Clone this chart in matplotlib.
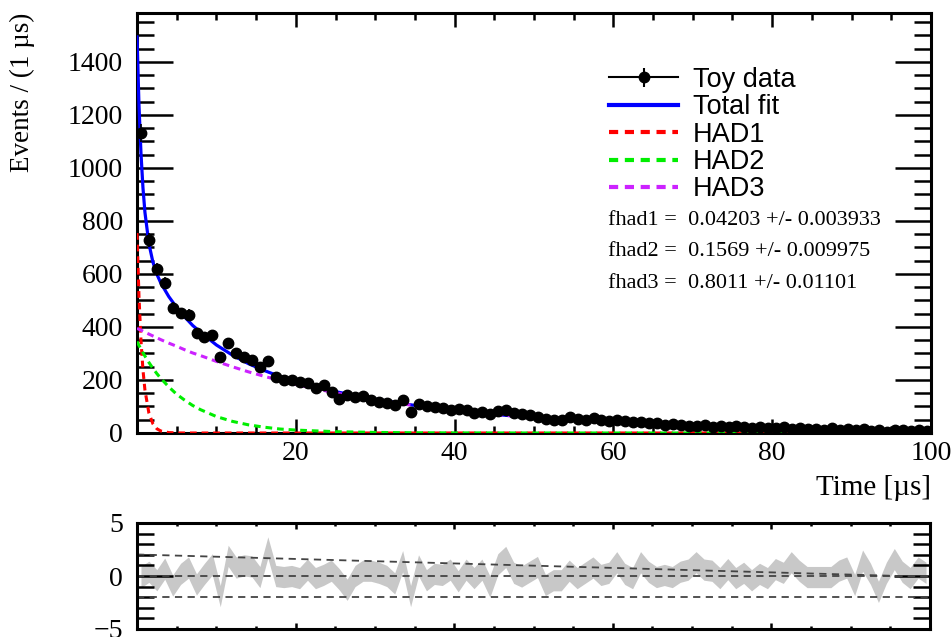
import numpy as np
import matplotlib
matplotlib.use("Agg")
import matplotlib.pyplot as plt
from matplotlib.container import ErrorbarContainer
from matplotlib.legend_handler import HandlerErrorbar, HandlerTuple
from matplotlib.ticker import MultipleLocator

# toy data: counts per 1 us bin, bin centres 0.5 .. 99.5
bin_centers = np.arange(0.5, 100.0, 1.0)
counts = [
    1131, 727, 618, 565, 471, 452, 445, 377, 363, 369,
    286, 340, 301, 286, 275, 249, 272, 212, 200, 200,
    193, 190, 169, 181, 156, 128, 143, 137, 140, 124,
    118, 112, 105, 124, 80, 109, 102, 99, 95, 87,
    90, 88, 75, 80, 70, 82, 88, 77, 72, 68,
    62, 53, 50, 49, 61, 53, 50, 57, 49, 46,
    48, 45, 40, 42, 36, 38, 30, 35, 30, 26,
    27, 30, 24, 28, 22, 25, 21, 19, 24, 20,
    18, 21, 16, 19, 14, 16, 13, 17, 12, 15,
    11, 14, 8, 12, 5, 10, 13, 7, 12, 9,
]

# fit components
curve_t = [0, 0.25, 0.5, 0.75, 1, 1.5, 2, 2.5, 3, 4, 5, 6, 7, 8, 10, 12, 14, 16,
           18, 20, 25, 30, 35, 40, 45, 50, 55, 60, 65, 70, 75, 80, 85, 90, 95, 100]
had1 = [754, 514, 350, 238, 162, 75, 35, 16, 7.5, 1.6, 0.3, 0, 0, 0, 0, 0, 0, 0,
        0, 0, 0, 0, 0, 0, 0, 0, 0, 0, 0, 0, 0, 0, 0, 0, 0, 0]
had2 = [345, 330, 317, 303, 290, 266, 244, 224, 206, 174, 146, 124, 104, 88, 62, 44, 31, 22,
        15, 11, 5, 2.2, 0.9, 0.4, 0.2, 0, 0, 0, 0, 0, 0, 0, 0, 0, 0, 0]
had3 = [395, 391, 388, 384, 380, 373, 366, 359, 352, 339, 327, 314, 302, 292, 270, 250, 231, 214,
        198, 183, 151, 125, 103, 85, 70, 58, 48, 39, 33, 27, 22, 18, 15, 12.5, 10.3, 8.4]

fit_results = [
    ("fhad1", "0.04203", "0.003933"),
    ("fhad2", "0.1569", "0.009975"),
    ("fhad3", "0.8011", "0.01101"),
]

# pull panel: centre of the grey band per bin
pulls = [
    -0.1, 0.4, -0.4, 0.7, -0.9, 0.2, 0.8, -0.8, 0.2, 1.1,
    -1.9, 1.9, 0.8, 1.0, 0.9, -0.1, 2.7, 0.0, -0.1, 0.0,
    -0.2, 0.6, -0.2, 0.1, 0.5, -0.3, -1.3, 0.0, 0.5, 0.5,
    0.3, 0.0, -0.7, 1.4, -1.9, 1.0, -0.4, 0.2, 0.1, 0.6,
    -0.5, 0.6, -0.2, 0.6, -1.0, 1.1, 1.8, 0.3, -0.05, 0.4,
    0.85, -0.85, -0.4, -0.4, 0.5, -0.2, 0.3, 0.8, 0.1, 0.3,
    1.3, 0.2, -0.2, 1.3, 0.4, -0.1, 0.1, -0.1, 0.4, 0.6,
    1.3, 0.6, 0.5, -0.2, 0.65, -0.2, 0.3, -0.4, 0.2, -0.2,
    0.65, 0.3, 1.3, 0.5, -0.1, -0.1, -0.1, -0.1, 0.5, 0.8,
    -0.85, 1.45, 0.2, -1.5, 0.3, 1.6, 0.4, -0.2, 0.8, 0.3,
]
pull_half_width = 1.0
ref_t = [0, 100]
ref_upper = [2.03, -0.08]
ref_lines = [0.0, -2.0]

total = np.array(had1) + np.array(had2) + np.array(had3)
counts = np.array(counts)
pulls = np.array(pulls)

serif = "Liberation Serif"
sans = "Liberation Sans"
blue, red, green, violet = "#0000ff", "#ff0000", "#00ee00", "#cc22ff"
dotted = (0, (2.2, 1.6))

fig = plt.figure(figsize=(9.53, 6.37), dpi=100)
ax = fig.add_axes([137 / 953, 1 - 433 / 637, 794 / 953, 420 / 637])
axr = fig.add_axes([137 / 953, 1 - 629 / 637, 793 / 953, 106 / 637])

# main panel
ax.errorbar(bin_centers, counts, xerr=0.5, yerr=np.sqrt(counts), fmt="o",
            color="black", ms=7.5, elinewidth=1.2, capsize=0, zorder=5)
ax.plot(curve_t, total, color=blue, lw=2.3, zorder=3)
ax.plot(curve_t, had1, color=red, lw=2.2, ls=dotted, zorder=4)
ax.plot(curve_t, had2, color=green, lw=2.2, ls=dotted, zorder=4)
ax.plot(curve_t, had3, color=violet, lw=2.2, ls=dotted, zorder=4)

ax.set_xlim(0, 100)
ax.set_ylim(0, 1584)
ax.set_xticks([20, 40, 60, 80, 100])
ax.xaxis.set_minor_locator(MultipleLocator(5))
ax.yaxis.set_major_locator(MultipleLocator(200))
ax.yaxis.set_minor_locator(MultipleLocator(50))
ax.tick_params(axis="both", which="both", direction="in", top=True, right=True,
               labelsize=20, width=1.8, colors="black")
ax.tick_params(axis="y", which="major", length=26, pad=10)
ax.tick_params(axis="y", which="minor", length=12)
ax.tick_params(axis="x", which="major", length=10, pad=6)
ax.tick_params(axis="x", which="minor", length=5)
for lab in ax.get_xticklabels() + ax.get_yticklabels():
    lab.set_fontfamily(serif)
for sp in ax.spines.values():
    sp.set_linewidth(2.2)

ax.set_ylabel("Events / (1 µs)", family=serif, fontsize=19.5, loc="top")
ax.yaxis.set_label_coords(-0.129, 1.0)
ax.set_xlabel("Time [µs]", family=serif, fontsize=21, loc="right")
ax.xaxis.set_label_coords(1.0, -0.100)

# legend
marker_line = plt.Line2D([], [], color="black", lw=1.5, marker="o", ms=7.5)
err_proxy = ax.errorbar([], [], yerr=[], fmt="none", ecolor="black",
                        elinewidth=1.5, capsize=3.5)
handles = [(marker_line, err_proxy),
           plt.Line2D([], [], color=blue, lw=3),
           plt.Line2D([], [], color=red, lw=3, ls=dotted),
           plt.Line2D([], [], color=green, lw=3, ls=dotted),
           plt.Line2D([], [], color=violet, lw=3, ls=dotted)]
labels = ["Toy data", "Total fit", "HAD1", "HAD2", "HAD3"]
ax.legend(handles, labels, loc="upper left", bbox_to_anchor=(0.5945, 0.8715),
          frameon=False, prop={"family": sans, "size": 19.5}, handlelength=2.55,
          handletextpad=0.55, labelspacing=0.05, borderpad=0, borderaxespad=0,
          handler_map={tuple: HandlerTuple(ndivide=1, pad=0),
                       ErrorbarContainer: HandlerErrorbar(yerr_size=0.35)})

for k, (name, val, err) in enumerate(fit_results):
    ax.text(0.593, 0.5067 - k * 0.075, f"{name} =  {val} +/- {err}",
            transform=ax.transAxes, family=serif, fontsize=16, va="center")

# pull panel
axr.fill_between(bin_centers, pulls - pull_half_width, pulls + pull_half_width,
                 color="#c8c8c8", lw=0, zorder=1)
for yv in ref_lines:
    axr.axhline(yv, color="#444444", lw=1.3, ls=(0, (4, 3)), zorder=2)
axr.plot(ref_t, ref_upper, color="#444444", lw=1.3, ls=(0, (4, 3)), zorder=2)
axr.set_xlim(0, 100)
axr.set_ylim(-5, 5)
axr.xaxis.set_major_locator(MultipleLocator(20))
axr.xaxis.set_minor_locator(MultipleLocator(5))
axr.yaxis.set_major_locator(MultipleLocator(5))
axr.yaxis.set_minor_locator(MultipleLocator(1))
axr.tick_params(axis="both", which="both", direction="in", top=True, right=True,
                labelsize=20, width=1.8, labelbottom=False)
axr.tick_params(axis="y", which="major", length=26, pad=10)
axr.tick_params(axis="y", which="minor", length=12)
axr.tick_params(axis="x", which="major", length=4)
axr.tick_params(axis="x", which="minor", length=2)
for lab in axr.get_yticklabels():
    lab.set_fontfamily(serif)
for sp in axr.spines.values():
    sp.set_linewidth(2.2)

fig.savefig("out.png", dpi=100)
